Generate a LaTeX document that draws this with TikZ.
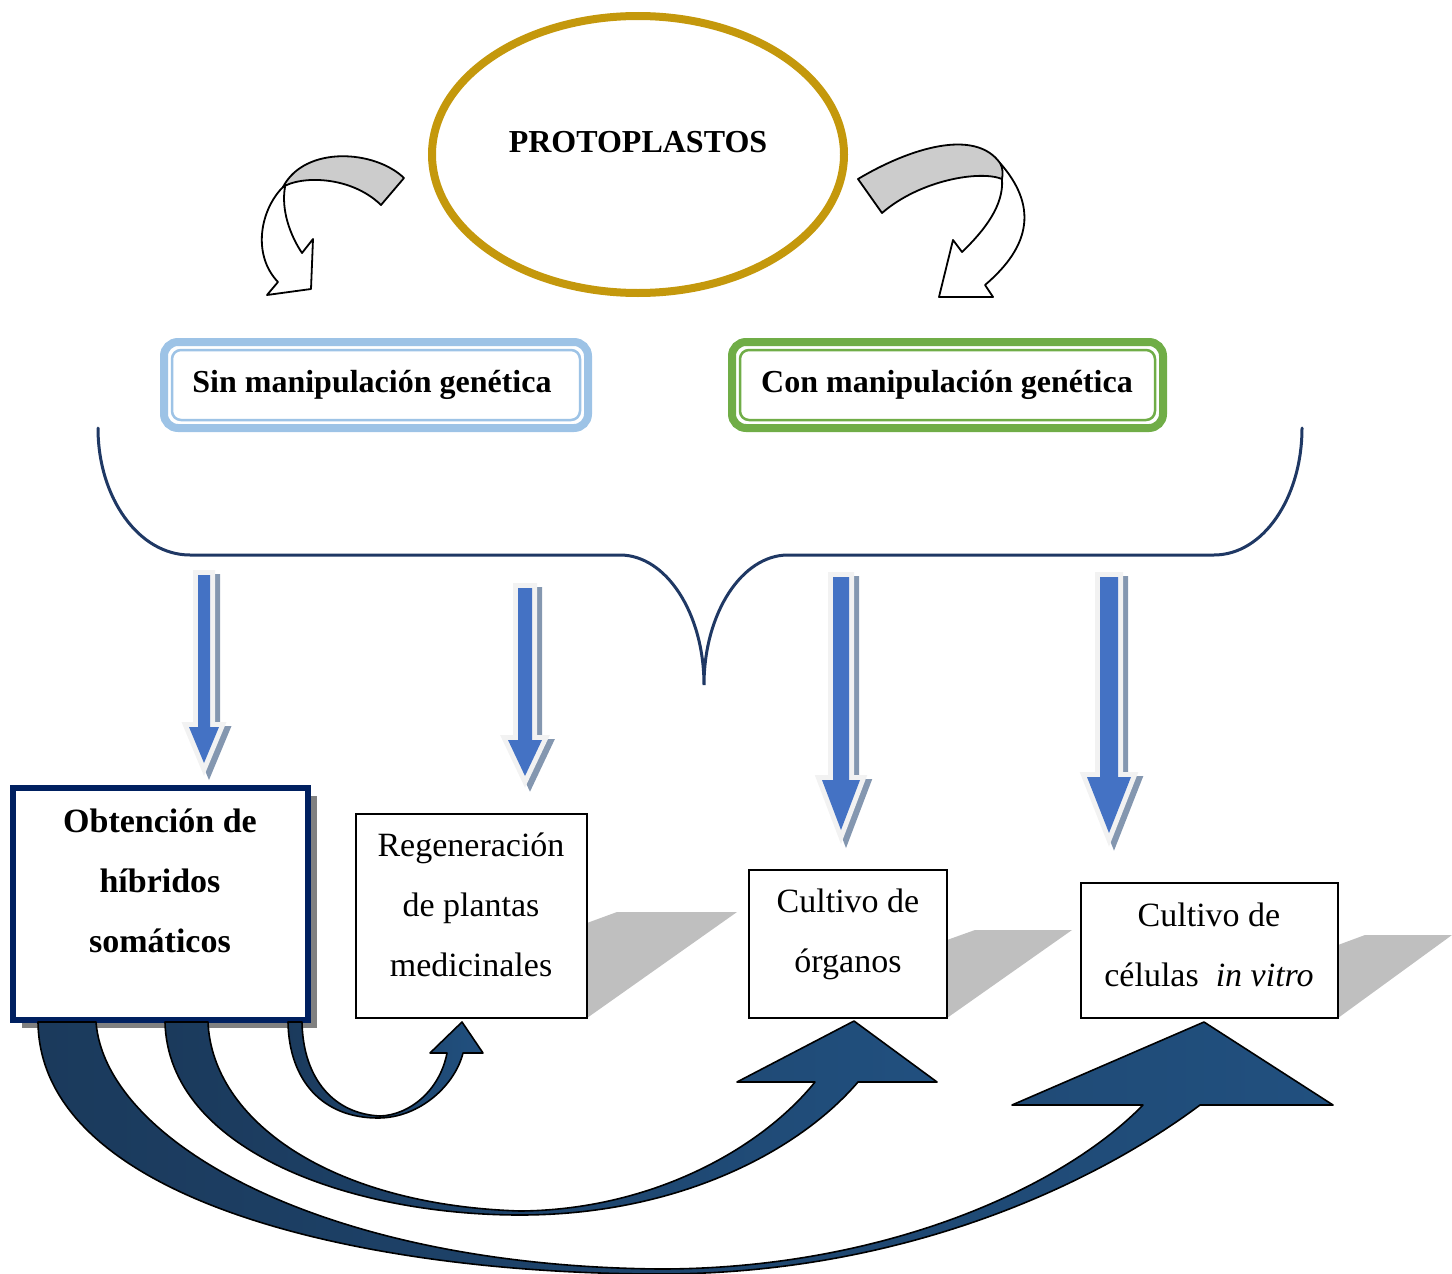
\documentclass[tikz,border=0pt]{standalone}
\usepackage{fontspec}
\setmainfont{Liberation Serif}
\usetikzlibrary{shapes.geometric,shadows}
\definecolor{gold}{RGB}{196,152,12}
\definecolor{lblue}{RGB}{157,195,230}
\definecolor{lgreen}{RGB}{112,173,71}
\definecolor{navy}{RGB}{31,56,100}
\definecolor{boxnavy}{RGB}{0,32,96}
\definecolor{arrblue}{RGB}{68,114,196}
\definecolor{arrline}{RGB}{242,242,242}
\definecolor{arrshad}{RGB}{132,151,176}
\definecolor{boxshad}{RGB}{128,128,128}
\definecolor{persp}{RGB}{191,191,191}
\definecolor{grayband}{RGB}{204,204,204}
\definecolor{darkL}{RGB}{27,58,92}
\definecolor{darkR}{RGB}{33,80,127}
\newcommand\blarr[6]{%
  \draw[arrshad, line width=5pt, fill=arrshad, line join=miter, shift={(5,4)}]
    ({#1-#5},#2) -- ({#1+#5},#2) -- ({#1+#5},#3) -- ({#1+#6},#3) -- (#1,#4) -- ({#1-#6},#3) -- ({#1-#5},#3) -- cycle;
  \draw[arrline, line width=5pt, fill=arrline, line join=miter]
    ({#1-#5},#2) -- ({#1+#5},#2) -- ({#1+#5},#3) -- ({#1+#6},#3) -- (#1,#4) -- ({#1-#6},#3) -- ({#1-#5},#3) -- cycle;
  \fill[arrblue]
    ({#1-#5},#2) -- ({#1+#5},#2) -- ({#1+#5},#3) -- ({#1+#6},#3) -- (#1,#4) -- ({#1-#6},#3) -- ({#1-#5},#3) -- cycle;}
\begin{document}
\begin{tikzpicture}[x=0.5pt,y=-0.5pt,
  btitle/.style={font=\fontsize{16}{19}\selectfont\bfseries, inner sep=0},
  rtxt/.style={font=\fontsize{17}{30}\selectfont, align=center, inner sep=0},
  btxt/.style={font=\fontsize{17}{30}\selectfont\bfseries, align=center, inner sep=0},
  plainbox/.style={draw=black, line width=0.8pt, fill=white, inner sep=0},
  topbox/.style={line width=4pt, rounded corners=7pt, inner sep=0, fill=white},
  innerline/.style={line width=1.25pt, rounded corners=4.5pt},
  band/.style={draw=black, line width=0.9pt, fill=grayband, line join=round},
  whitearr/.style={draw=black, line width=0.9pt, fill=white, line join=round},
  ribbon/.style={draw=black, line width=0.8pt, left color=darkL, right color=darkR, line join=round},
  brace/.style={draw=navy, line width=1.5pt, line cap=round}]
\useasboundingbox (0,0) rectangle (1452,1274);

% ellipse
\node[ellipse, draw=gold, line width=4pt, minimum width=206pt, minimum height=138.5pt, inner sep=0] (proto) at (638,154.5) {};
\node[btitle] (prototxt) at (638,142) {PROTOPLASTOS};

% top curved arrows
\draw[whitearr] (283,187) .. controls (260,210) and (252,255) .. (278,282) -- (267,295) -- (311,289) -- (313,239) -- (302,253) .. controls (290,235) and (281,210) .. (285,187) -- cycle;
\draw[band] (404,178) .. controls (375,150) and (305,145) .. (283,187) .. controls (300,176) and (350,175) .. (381,205) -- cycle;
\draw[whitearr] (1000,163) .. controls (1037,205) and (1032,245) .. (985,285) -- (993,297) -- (939,297) -- (953,240) -- (962,252) .. controls (985,230) and (1004,205) .. (1002,179) -- cycle;
\draw[band] (858,179) .. controls (910,148) and (975,128) .. (1000,163) .. controls (1003,168) and (1003,174) .. (1002,179) .. controls (980,170) and (920,180) .. (882,213) -- cycle;

% top boxes
\node[topbox, draw=lblue, minimum width=212pt, minimum height=43pt] (sin) at (376,385) {};
\draw[lblue, innerline] (172,350) rectangle (580,420);
\node[btitle] (sintxt) at (372,385) {Sin manipulación genética};
\node[topbox, draw=lgreen, minimum width=215.5pt, minimum height=43pt] (con) at (947.5,385) {};
\draw[lgreen, innerline] (740,350) rectangle (1155,420);
\node[btitle] (contxt) at (947,385) {Con manipulación genética};

% brace
\draw[brace] (98,428) .. controls (98,498) and (139,555) .. (190,555) -- (620,555)
  .. controls (666,555) and (704,613) .. (704,685)
  .. controls (704,613) and (742,555) .. (788,555) -- (1214,555)
  .. controls (1263,555) and (1302,498) .. (1302,428);

% blue arrows
\blarr{204}{575}{727}{763}{6}{15}
\blarr{525}{588}{740}{776}{7}{17}
\blarr{841}{577}{780}{830}{8}{19}
\blarr{1109}{577}{777}{833}{9}{22}

% perspective shadows
\fill[persp] (587,923) -- (617,912) -- (737,912) -- (587,1018) -- cycle;
\fill[persp] (947,940) -- (975,930) -- (1072,930) -- (947,1018) -- cycle;
\fill[persp] (1338,945) -- (1365,935) -- (1452,935) -- (1338,1018) -- cycle;

% boxes
\node[draw=boxnavy, line width=3pt, fill=white, inner sep=0, minimum width=147.5pt, minimum height=116pt,
  drop shadow={shadow xshift=4.5pt, shadow yshift=-4pt, fill=boxshad, opacity=1}] (b1) at (160.5,904) {};
\node[btxt] (b1t) at (160,881) {Obtención de\\híbridos\\somáticos};
\node[plainbox, minimum width=115.5pt, minimum height=102pt] (b2) at (471.5,916) {};
\node[rtxt] (b2t) at (471,905) {Regeneración\\de plantas\\medicinales};
\node[plainbox, minimum width=99pt, minimum height=74pt] (b3) at (848,944) {};
\node[rtxt] (b3t) at (848,934) {Cultivo de\\órganos};
\node[plainbox, minimum width=128.5pt, minimum height=67.5pt] (b4) at (1209.5,950.5) {};
\node[rtxt] (b4t) at (1209,945) {Cultivo de\\células\enspace\textit{in vitro}};

% bottom ribbons
\path[ribbon] (288,1022) .. controls (289,1080) and (322,1118) .. (378,1118)
  .. controls (420,1118) and (455,1085) .. (463,1053) -- (483,1053) -- (462,1022) -- (430,1053) -- (447,1053)
  .. controls (440,1090) and (410,1115) .. (380,1116)
  .. controls (335,1114) and (303,1080) .. (302,1022) -- cycle;
\path[ribbon] (165,1022) .. controls (168,1150) and (350,1215) .. (520,1215)
  .. controls (680,1215) and (800,1150) .. (858,1082) -- (937,1082) -- (854,1021) -- (737,1082) -- (815,1082)
  .. controls (760,1150) and (650,1210) .. (520,1211)
  .. controls (330,1205) and (212,1120) .. (208,1022) -- cycle;
\path[ribbon] (38,1022) .. controls (40,1200) and (360,1274) .. (660,1274)
  .. controls (910,1274) and (1100,1180) .. (1200,1105) -- (1333,1105) -- (1204,1022) -- (1012,1105) -- (1143,1105)
  .. controls (1060,1190) and (880,1269) .. (660,1269)
  .. controls (320,1266) and (105,1140) .. (96,1022) -- cycle;
\end{tikzpicture}
\end{document}
